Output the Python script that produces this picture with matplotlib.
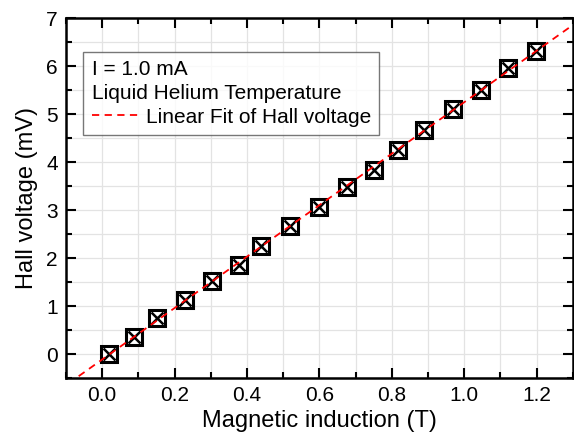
import numpy as np
import matplotlib
matplotlib.use("Agg")
import matplotlib.pyplot as plt
from matplotlib.ticker import MultipleLocator

plt.rcParams['font.family'] = ['Liberation Sans', 'DejaVu Sans']

B = [0.018, 0.087, 0.151, 0.228, 0.303, 0.378, 0.439, 0.518, 0.598,
     0.676, 0.751, 0.818, 0.889, 0.969, 1.047, 1.122, 1.199]
V = [0.00, 0.35, 0.74, 1.13, 1.53, 1.85, 2.24, 2.66, 3.07,
     3.48, 3.84, 4.25, 4.67, 5.11, 5.51, 5.95, 6.31]

slope, intercept = np.polyfit(B, V, 1)
xfit = np.linspace(-0.065, 1.3, 50)

fig = plt.figure(figsize=(5.74, 4.34), dpi=100)
ax = fig.add_axes([0.115, 0.129, 0.883, 0.8295])

ax.plot(B, V, 's', ms=11, mfc='white', mec='black', mew=2.2, zorder=3)
ax.plot(B, V, 'x', ms=8.5, mec='black', mew=1.8, zorder=4)
fit, = ax.plot(xfit, slope * xfit + intercept, '--', color='red', lw=1.3,
               dashes=(4, 3), zorder=5)

ax.set_xlim(-0.1, 1.3)
ax.set_ylim(-0.5, 7)
ax.xaxis.set_major_locator(MultipleLocator(0.2))
ax.xaxis.set_minor_locator(MultipleLocator(0.1))
ax.yaxis.set_major_locator(MultipleLocator(1))
ax.yaxis.set_minor_locator(MultipleLocator(0.5))
ax.grid(True, which='both', color='#e3e3e3', lw=0.9, zorder=0)
ax.set_axisbelow(True)

ax.tick_params(which='both', direction='in', top=True, right=True,
               width=1.5, labelsize=15, colors='black', pad=6)
ax.tick_params(which='major', length=7)
ax.tick_params(which='minor', length=4)
for s in ax.spines.values():
    s.set_linewidth(1.8)

ax.set_xlabel("Magnetic induction (T)", fontsize=17, labelpad=3)
ax.set_ylabel("Hall voltage (mV)", fontsize=17, labelpad=6)

# first two legend lines have no symbol, so put them in the title
leg = ax.legend([fit], ["Linear Fit of Hall voltage"],
                title="I = 1.0 mA\nLiquid Helium Temperature",
                title_fontsize=15, alignment='left',
                loc='upper left', bbox_to_anchor=(0.034, 0.906),
                fontsize=15, frameon=True, fancybox=False, edgecolor='#555555',
                handlelength=2.3, handletextpad=0.3, borderpad=0.4,
                labelspacing=0.2, borderaxespad=0)
leg.get_title().set_linespacing(1.35)
leg.get_frame().set_linewidth(1.0)

fig.savefig("out.png", dpi=100)
